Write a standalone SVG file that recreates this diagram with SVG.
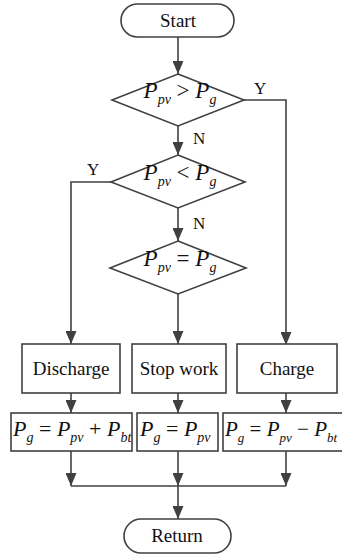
<svg xmlns="http://www.w3.org/2000/svg" width="342" height="559" viewBox="0 0 342 559">
<style>
.shape{fill:#fff;stroke:#404040;stroke-width:1.6}
.line{fill:none;stroke:#404040;stroke-width:1.6}
.lbl{font-family:"Liberation Serif","Times New Roman",serif;font-size:19px;fill:#111;text-anchor:middle}
.yn{font-family:"Liberation Serif","Times New Roman",serif;font-size:17px;fill:#111}
.m{font-family:"Liberation Serif","Times New Roman",serif;font-size:23px;fill:#111}
.f{font-size:22px}
.i{font-style:italic}
.s{font-style:italic;font-size:14px}
</style>
<defs>
<marker id="ah" markerUnits="userSpaceOnUse" markerWidth="13" markerHeight="11" refX="13" refY="5.5" orient="auto">
<path d="M0,0 L13,5.5 L0,11 z" fill="#404040"/>
</marker>
</defs>
<g id="connectors">
<path class="line" d="M178,37 V74" marker-end="url(#ah)"/>
<path class="line" d="M244,100 H286 V345" marker-end="url(#ah)"/>
<path class="line" d="M178,126 V155" marker-end="url(#ah)"/>
<path class="line" d="M111,182 H71 V344" marker-end="url(#ah)"/>
<path class="line" d="M178,208 V241" marker-end="url(#ah)"/>
<path class="line" d="M178,294 V344" marker-end="url(#ah)"/>
<path class="line" d="M71,393 V413" marker-end="url(#ah)"/>
<path class="line" d="M178,393 V413" marker-end="url(#ah)"/>
<path class="line" d="M286,393 V413" marker-end="url(#ah)"/>
<path class="line" d="M71,451 V486" marker-end="url(#ah)"/>
<path class="line" d="M178,451 V486" marker-end="url(#ah)"/>
<path class="line" d="M286,451 V486" marker-end="url(#ah)"/>
<path class="line" d="M71,486 H286"/>
<path class="line" d="M178,486 V519" marker-end="url(#ah)"/>
<text class="yn" x="254" y="94">Y</text>
<text class="yn" x="193" y="144">N</text>
<text class="yn" x="87" y="175">Y</text>
<text class="yn" x="193" y="229">N</text>
</g>
<g id="start">
<rect class="shape" x="121" y="4" width="113" height="33" rx="16.5"/>
<text class="lbl" x="178" y="27">Start</text>
</g>
<g id="d1">
<polygon class="shape" points="178,74 244,100 178,126 112,100"/>
<text class="m" x="180" y="98" text-anchor="middle"><tspan class="i">P</tspan><tspan class="s" dy="6">pv</tspan><tspan dy="-6"> &gt; </tspan><tspan class="i">P</tspan><tspan class="s" dy="6">g</tspan></text>
</g>
<g id="d2">
<polygon class="shape" points="178,155 245,182 178,208 111,182"/>
<text class="m" x="180" y="180" text-anchor="middle"><tspan class="i">P</tspan><tspan class="s" dy="6">pv</tspan><tspan dy="-6"> &lt; </tspan><tspan class="i">P</tspan><tspan class="s" dy="6">g</tspan></text>
</g>
<g id="d3">
<polygon class="shape" points="178,241 246,268 178,294 110,268"/>
<text class="m" x="180" y="266" text-anchor="middle"><tspan class="i">P</tspan><tspan class="s" dy="6">pv</tspan><tspan dy="-6"> = </tspan><tspan class="i">P</tspan><tspan class="s" dy="6">g</tspan></text>
</g>
<g id="discharge">
<rect class="shape" x="22" y="344" width="98" height="49"/>
<text class="lbl" x="71" y="375">Discharge</text>
</g>
<g id="stopwork">
<rect class="shape" x="132" y="344" width="94" height="49"/>
<text class="lbl" x="179" y="375">Stop work</text>
</g>
<g id="charge">
<rect class="shape" x="237" y="344" width="100" height="49"/>
<text class="lbl" x="287" y="375">Charge</text>
</g>
<g id="f1">
<rect class="shape" x="11" y="413" width="121" height="38"/>
<text class="m f" x="13" y="436"><tspan class="i">P</tspan><tspan class="s" dy="6">g</tspan><tspan dy="-6"> = </tspan><tspan class="i">P</tspan><tspan class="s" dy="6">pv</tspan><tspan dy="-6"> + </tspan><tspan class="i">P</tspan><tspan class="s" dy="6">bt</tspan></text>
</g>
<g id="f2">
<rect class="shape" x="137" y="413" width="81" height="38"/>
<text class="m f" x="140" y="436"><tspan class="i">P</tspan><tspan class="s" dy="6">g</tspan><tspan dy="-6"> = </tspan><tspan class="i">P</tspan><tspan class="s" dy="6">pv</tspan></text>
</g>
<g id="f3">
<rect class="shape" x="223" y="413" width="126" height="38"/>
<text class="m" x="225" y="436" style="font-size:21px"><tspan class="i">P</tspan><tspan class="s" dy="6" style="font-size:13px">g</tspan><tspan dy="-6"> = </tspan><tspan class="i">P</tspan><tspan class="s" dy="6" style="font-size:13px">pv</tspan><tspan dy="-6"> − </tspan><tspan class="i">P</tspan><tspan class="s" dy="6" style="font-size:13px">bt</tspan></text>
</g>
<g id="return">
<rect class="shape" x="124" y="519" width="107" height="34" rx="17"/>
<text class="lbl" x="177" y="542">Return</text>
</g>
</svg>
